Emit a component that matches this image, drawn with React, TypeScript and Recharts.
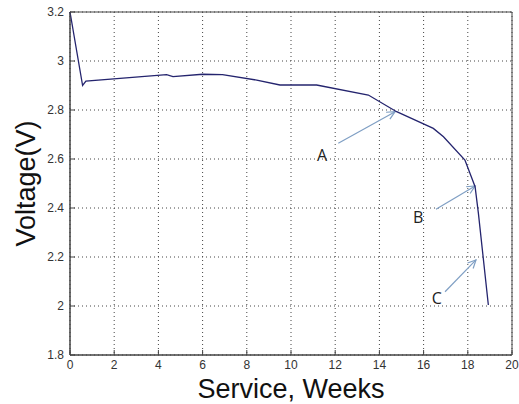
import {
  LineChart,
  Line,
  XAxis,
  YAxis,
  CartesianGrid,
  ReferenceLine,
  ReferenceDot,
  ReferenceArea,
} from 'recharts'

// voltage curve
const weeks = [
  0, 0.57, 0.72, 4.37, 4.66, 6.0, 6.9, 8.45, 9.5, 11.16, 13.5, 14.78, 16.44,
  16.9, 17.87, 18.33, 18.48, 18.93,
]
const volts = [
  3.2, 2.9, 2.918, 2.944, 2.936, 2.946, 2.944, 2.922, 2.902, 2.902, 2.861,
  2.793, 2.725, 2.691, 2.596, 2.487, 2.378, 2.004,
]

const xTicks = [0, 2, 4, 6, 8, 10, 12, 14, 16, 18, 20]
const yTicks = [1.8, 2, 2.2, 2.4, 2.6, 2.8, 3, 3.2]

// annotation arrows: tail -> head, plus letter position
const markNames = ['A', 'B', 'C']
const arrowTails = [
  [12.14, 2.664],
  [16.56, 2.395],
  [16.97, 2.058],
]
const arrowHeads = [
  [14.71, 2.793],
  [18.33, 2.49],
  [18.37, 2.188],
]
const markLabels = [
  [11.4, 2.616],
  [15.75, 2.363],
  [16.6, 2.033],
]

const data = weeks.map((w, i) => ({ week: w, volt: volts[i] }))

const font = '"Liberation Sans", Arial, sans-serif'
const axisColor = '#444'
const arrowColor = '#7f9fc4'

const fmt = (v: number) => String(Math.round(v * 10) / 10)

const Arrow = (props: any) => {
  const { x1, y1, x2, y2 } = props
  const ang = Math.atan2(y2 - y1, x2 - x1)
  const len = 9
  const spread = 0.45
  const ax = x2 - len * Math.cos(ang - spread)
  const ay = y2 - len * Math.sin(ang - spread)
  const bx = x2 - len * Math.cos(ang + spread)
  const by = y2 - len * Math.sin(ang + spread)
  return (
    <g stroke={arrowColor} strokeWidth={1.2} fill="none">
      <line x1={x1} y1={y1} x2={x2} y2={y2} />
      <path d={`M${ax},${ay} L${x2},${y2} L${bx},${by}`} />
    </g>
  )
}

const Letter = (name: string) => (props: any) => (
  <text
    x={props.cx}
    y={props.cy}
    textAnchor="middle"
    dominantBaseline="central"
    fontSize={16}
    fontFamily='"Open Sans", "DejaVu Sans", sans-serif'
    fill="#222"
  >
    {name}
  </text>
)

const App = () => {
  return (
    <div style={{ position: 'absolute', left: 0, top: 0 }}>
      <LineChart
        width={519}
        height={404}
        data={data}
        margin={{ top: 12, right: 7, bottom: 0, left: 0 }}
      >
        <CartesianGrid stroke="#444" strokeDasharray="1 3" />

        <XAxis
          dataKey="week"
          type="number"
          domain={[0, 20]}
          ticks={xTicks}
          height={49}
          tickSize={-5}
          tickMargin={10}
          stroke={axisColor}
          tick={{ fill: '#333', fontSize: 12, fontFamily: font }}
          label={{
            value: 'Service, Weeks',
            position: 'center',
            dy: 9,
            fontSize: 27,
            fill: '#111',
            fontFamily: font,
          }}
        />

        <YAxis
          type="number"
          domain={[1.8, 3.2]}
          ticks={yTicks}
          width={70}
          tickSize={-5}
          tickMargin={11}
          tickFormatter={fmt}
          stroke={axisColor}
          tick={{ fill: '#333', fontSize: 12, fontFamily: font }}
          label={{
            value: 'Voltage(V)',
            angle: -90,
            position: 'center',
            dx: -10,
            fontSize: 27,
            fill: '#111',
            fontFamily: font,
          }}
        />

        {/* box round the plot */}
        <ReferenceArea
          x1={0}
          x2={20}
          y1={1.8}
          y2={3.2}
          fill="none"
          fillOpacity={0}
          stroke={axisColor}
          strokeOpacity={1}
          strokeWidth={1}
          ifOverflow="visible"
        />

        {markNames.map((name, i) => (
          <ReferenceLine
            key={`arrow-${name}`}
            segment={[
              { x: arrowTails[i][0], y: arrowTails[i][1] },
              { x: arrowHeads[i][0], y: arrowHeads[i][1] },
            ]}
            shape={Arrow}
          />
        ))}

        {markNames.map((name, i) => (
          <ReferenceDot
            key={`label-${name}`}
            x={markLabels[i][0]}
            y={markLabels[i][1]}
            r={1}
            shape={Letter(name)}
          />
        ))}

        <Line
          type="linear"
          dataKey="volt"
          stroke="#24246e"
          strokeWidth={1.3}
          dot={false}
          isAnimationActive={false}
        />
      </LineChart>
    </div>
  )
}

export default App
